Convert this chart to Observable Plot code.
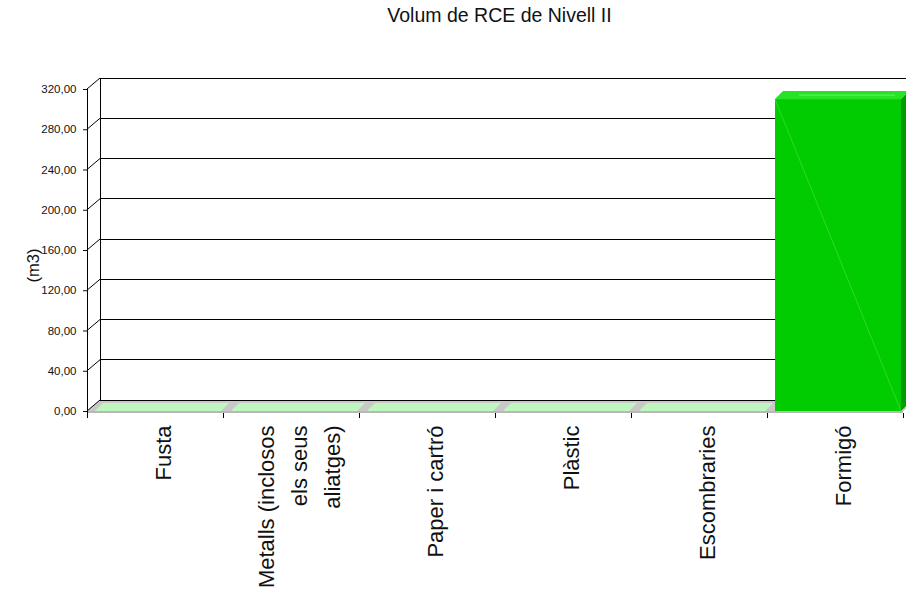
<!DOCTYPE html>
<html>
<head>
<meta charset="utf-8">
<script src="https://cdn.jsdelivr.net/npm/d3@7"></script>
<script src="https://cdn.jsdelivr.net/npm/@observablehq/plot@0.6"></script>
<style>
  html, body { margin: 0; padding: 0; background: #fff; overflow: hidden; }
  svg { display: block; }
</style>
</head>
<body>
<div id="chart"></div>
<script>
const title = "Volum de RCE de Nivell II";
const yLabel = "(m3)";
const categories = ["Fusta", "Metalls (inclosos els seus aliatges)", "Paper i cartró", "Plàstic", "Escombraries", "Formigó"];
const categoryLabels = ["Fusta", "Metalls (inclosos\nels seus\naliatges)", "Paper i cartró", "Plàstic", "Escombraries", "Formigó"];
const volumes = [0, 0, 0, 0, 0, 310];
const yTicks = [0, 40, 80, 120, 160, 200, 240, 280, 320];

const data = categories.map((c, i) => ({cat: c, v: volumes[i]}));

const DXW = 13, DYW = -11;   // depth of walls/floor
const DXB = 8, DYB = -8;     // depth of bars
const INSET_L = 8, INSET_R = 2;
const fmt = d => d.toFixed(2).replace(".", ",");

function geom(x) {
  const bw = x(categories[1]) - x(categories[0]);
  const left = x(categories[0]);
  const right = x(categories[categories.length - 1]) + bw;
  return {bw, left, right};
}

function backdrop(index, {x, y}) {
  const {left, right} = geom(x);
  const y0 = y(0);
  const yTop = y(d3.max(yTicks));
  const g = d3.create("svg:g").attr("shape-rendering", "crispEdges");
  // floor
  g.append("path")
    .attr("d", `M${left},${y0}L${right},${y0}L${right + DXW},${y0 + DYW}L${left + DXW},${y0 + DYW}Z`)
    .attr("fill", "#c8c8c8");
  g.append("rect").attr("x", left).attr("y", y0).attr("width", right - left).attr("height", 2).attr("fill", "#b8b8b8");
  // back gridlines + side connectors
  for (const v of yTicks) {
    const yy = y(v);
    g.append("line").attr("x1", left + DXW).attr("x2", right + DXW)
      .attr("y1", yy + DYW).attr("y2", yy + DYW).attr("stroke", "#000");
    g.append("line").attr("x1", left).attr("y1", yy).attr("x2", left + DXW).attr("y2", yy + DYW)
      .attr("stroke", "#000").attr("shape-rendering", "auto");
  }
  // back wall left edge
  g.append("line").attr("x1", left + DXW).attr("x2", left + DXW)
    .attr("y1", yTop + DYW).attr("y2", y0 + DYW).attr("stroke", "#000");
  // front axis line
  g.append("line").attr("x1", left).attr("x2", left)
    .attr("y1", yTop).attr("y2", y0 + 2).attr("stroke", "#000");
  return g.node();
}

function barFaces(index, {x, y}) {
  const {bw} = geom(x);
  const y0 = y(0);
  const g = d3.create("svg:g");
  volumes.forEach((v, i) => {
    const a = x(categories[i]) + INSET_L, b = x(categories[i]) + bw - INSET_R;
    const t = y(v);
    const topFill = v > 0 ? "#26e326" : "#bff5bf";
    g.append("path")
      .attr("d", `M${a},${t}L${b},${t}L${b + DXB},${t + DYB}L${a + DXB},${t + DYB}Z`)
      .attr("fill", topFill);
    if (v > 0) {
      g.append("line").attr("x1", a + DXB / 2 + 20).attr("x2", b + DXB / 2 - 10)
        .attr("y1", t + DYB / 2).attr("y2", t + DYB / 2).attr("stroke", "#7af57a").attr("stroke-width", 0.8);
      g.append("path")
        .attr("d", `M${b},${t}L${b},${y0}L${b + DXB},${y0 + DYB}L${b + DXB},${t + DYB}Z`)
        .attr("fill", "#009c00");
    }
  });
  return g.node();
}

function frontDetails(index, {x, y}) {
  const {bw, left} = geom(x);
  const y0 = y(0);
  const g = d3.create("svg:g");
  volumes.forEach((v, i) => {
    if (v > 0) {
      const a = x(categories[i]) + INSET_L, b = x(categories[i]) + bw - INSET_R;
      g.append("line").attr("x1", a).attr("y1", y(v)).attr("x2", b).attr("y2", y0)
        .attr("stroke", "#4fe04f").attr("stroke-width", 0.6);
    }
  });
  // category boundary ticks
  for (let i = 0; i <= categories.length; i++) {
    const xx = Math.round(left + i * bw) + 0.5;
    g.append("line").attr("x1", xx).attr("x2", xx).attr("y1", y0 + 2).attr("y2", y0 + 7)
      .attr("stroke", "#000");
  }
  return g.node();
}

const chart = Plot.plot({
  width: 906,
  height: 593,
  marginTop: 89,
  marginBottom: 182,
  marginLeft: 87,
  marginRight: 3,
  style: {fontFamily: "'Liberation Sans', Arial, sans-serif", color: "#111", background: "#fff"},
  x: {type: "band", domain: categories, paddingInner: 0, paddingOuter: 0, axis: null},
  y: {domain: [0, 320], axis: null},
  marks: [
    backdrop,
    barFaces,
    Plot.barY(data, {x: "cat", y: "v", fill: "#00cc00", insetLeft: INSET_L, insetRight: INSET_R}),
    frontDetails,
    Plot.axisY(yTicks, {tickSize: 4, tickPadding: 7, tickFormat: fmt, fontSize: 11.5, label: null}),
    Plot.text([yLabel], {frameAnchor: "left", dx: -54, dy: 15, rotate: -90, textAnchor: "middle", lineAnchor: "middle", fontSize: 16.5}),
    Plot.text(categories, {
      x: d => d, text: (d, i) => categoryLabels[i],
      frameAnchor: "bottom", dy: 14, dx: 5, rotate: -90,
      textAnchor: "end", lineAnchor: "middle", fontSize: 22, lineHeight: 1.5
    }),
    Plot.text([title], {frameAnchor: "top", dx: 4, dy: -74, textAnchor: "middle", lineAnchor: "middle", fontSize: 19.5})
  ]
});
document.getElementById("chart").append(chart);
</script>
</body>
</html>
